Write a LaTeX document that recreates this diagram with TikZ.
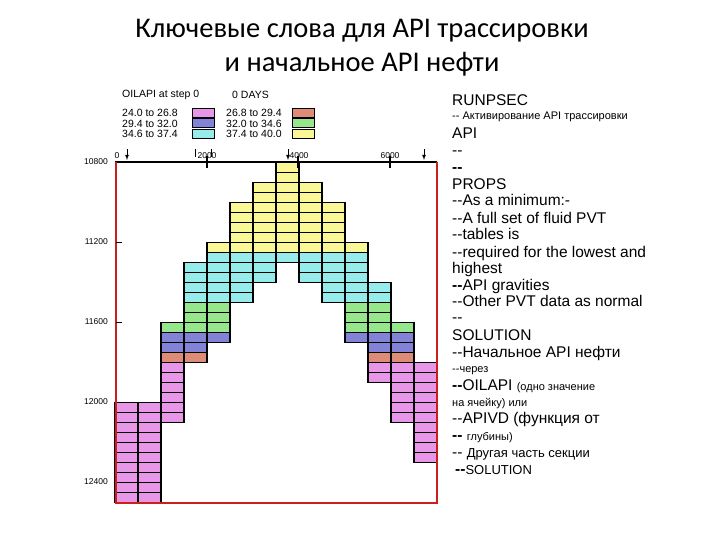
\documentclass[tikz,border=0pt]{standalone}
\usepackage{fontspec}
\setmainfont{Liberation Sans}
\newfontfamily\titlefont{Carlito}
\newcommand\dd{{-}{-}}
\begin{document}
\begin{tikzpicture}[x=1pt,y=-1pt,
 cell/.style={draw=black,line width=1.3pt},
 big/.style={anchor=base west,inner sep=0pt,font=\fontsize{15.5}{15.5}\selectfont},
 small/.style={anchor=base west,inner sep=0pt,font=\fontsize{11}{11}\selectfont},
 lbl/.style={inner sep=0pt,font=\fontsize{10.5}{10.5}\selectfont},
 axl/.style={inner sep=0pt,font=\fontsize{8.5}{8.5}\selectfont}]
\definecolor{mg}{RGB}{232,150,232}
\definecolor{rd}{RGB}{222,140,120}
\definecolor{bl}{RGB}{130,130,215}
\definecolor{gn}{RGB}{150,230,140}
\definecolor{cy}{RGB}{150,235,235}
\definecolor{yl}{RGB}{250,248,150}
\definecolor{redframe}{RGB}{205,30,30}
\useasboundingbox (0,0) rectangle (720,540);
% title
\node[font=\titlefont\fontsize{28.5}{28.5}\selectfont] (t1) at (362,31) {Ключевые слова для API трассировки};
\node[font=\titlefont\fontsize{28.5}{28.5}\selectfont] (t2) at (362,64) {и начальное API нефти};
% cells
\foreach \c/\a/\b/\col in {0/24/33/mg,1/24/33/mg,
 2/16/16/gn,2/17/18/bl,2/19/19/rd,2/20/25/mg,
 3/10/13/cy,3/14/16/gn,3/17/18/bl,3/19/19/rd,
 4/8/8/yl,4/9/13/cy,4/14/16/gn,4/17/17/bl,
 5/4/8/yl,5/9/13/cy,6/2/8/yl,6/9/11/cy,7/0/8/yl,7/9/9/cy,
 8/2/8/yl,8/9/11/cy,9/4/8/yl,9/9/13/cy,
 10/8/8/yl,10/9/13/cy,10/14/16/gn,10/17/17/bl,
 11/12/13/cy,11/14/16/gn,11/17/18/bl,11/19/19/rd,11/20/21/mg,
 12/16/16/gn,12/17/18/bl,12/19/19/rd,12/20/25/mg,
 13/20/29/mg}{
 \foreach \r in {\a,...,\b}
  \draw[cell,fill=\col] (115+\c*23,162.7+\r*10) rectangle ++(23,10);
}
% frame
\draw[black,line width=2pt] (115,162.5) -- (437,162.5);
\draw[redframe,line width=2.5pt] (116,162.5) -- (116,503) -- (437,503) -- (437,162.5);
\foreach \x in {207,298,390} \draw[line width=1.5pt] (\x,156) -- (\x,168);
\foreach \y in {242.7,322.7} \draw[line width=1.5pt] (116,\y) -- (122,\y);
\foreach \x in {127,288,424} \draw[line width=0.8pt,-latex] (\x,149) -- (\x,160);
\draw[line width=0.8pt] (195,149) -- (195,157) (211,149) -- (211,157);
\node[axl] (x0) at (117,156) {0};
\node[axl] (x1) at (207,156) {2000};
\node[axl] (x2) at (299,156) {4000};
\node[axl] (x3) at (390,156) {6000};
\foreach \v/\y in {10800/162,11200/242,11600/322,12000/402,12400/482}
 \node[axl,anchor=east] (d\v) at (108,\y) {\v};
% legend
\node[lbl,anchor=west] (lt) at (122,95) {OILAPI at step 0};
\node[lbl,anchor=west] (ld) at (232,95) {0 DAYS};
\foreach \i/\ta/\ca/\tb/\cb in {0/24.0 to 26.8/mg/26.8 to 29.4/rd,1/29.4 to 32.0/bl/32.0 to 34.6/gn,2/34.6 to 37.4/cy/37.4 to 40.0/yl}{
 \node[lbl,anchor=west] (la\i) at (122,113+\i*10.5) {\ta};
 \draw[fill=\ca,line width=1pt] (192,108.5+\i*10.5) rectangle (214,117.5+\i*10.5);
 \node[lbl,anchor=west] (lb\i) at (226,113+\i*10.5) {\tb};
 \draw[fill=\cb,line width=1pt] (292,108.5+\i*10.5) rectangle (314,117.5+\i*10.5);
}
% right text
\node[big] (r1) at (452,106) {RUNPSEC};
\node[small] (r2) at (452,120) {\dd{} Активирование API трассировки};
\node[big] (r3) at (452,139) {API};
\node[big] (r4) at (452,156) {\dd};
\node[big] (r5) at (452,173) {\textbf{\dd}};
\node[big] (r6) at (452,190) {PROPS};
\node[big] (r7) at (452,206) {\dd As a minimum:-};
\node[big] (r8) at (452,223) {\dd A full set of fluid PVT};
\node[big] (r9) at (452,240) {\dd tables is};
\node[big] (r10) at (452,257) {\dd required for the lowest and};
\node[big] (r11) at (452,273) {highest};
\node[big] (r12) at (452,290) {\textbf{\dd}API gravities};
\node[big] (r13) at (452,306) {\dd Other PVT data as normal};
\node[big] (r14) at (452,322) {\dd};
\node[big] (r15) at (452,340) {SOLUTION};
\node[big] (r16) at (452,357) {\dd Начальное API нефти};
\node[small] (r17) at (452,372) {\dd через};
\node[big] (r18) at (452,390) {\textbf{\dd}OILAPI {\fontsize{11}{11}\selectfont (одно значение}};
\node[small] (r19) at (452,406) {на ячейку) или};
\node[big] (r20) at (452,423) {\dd APIVD (функция от};
\node[big] (r21) at (452,440) {\textbf{\dd} {\fontsize{11}{11}\selectfont глубины)}};
\node[big] (r22) at (452,457) {\dd{} {\fontsize{13}{13}\selectfont Другая часть секции}};
\node[big] (r23) at (455,474) {\textbf{\dd}{\fontsize{13}{13}\selectfont SOLUTION}};
\end{tikzpicture}
\end{document}
